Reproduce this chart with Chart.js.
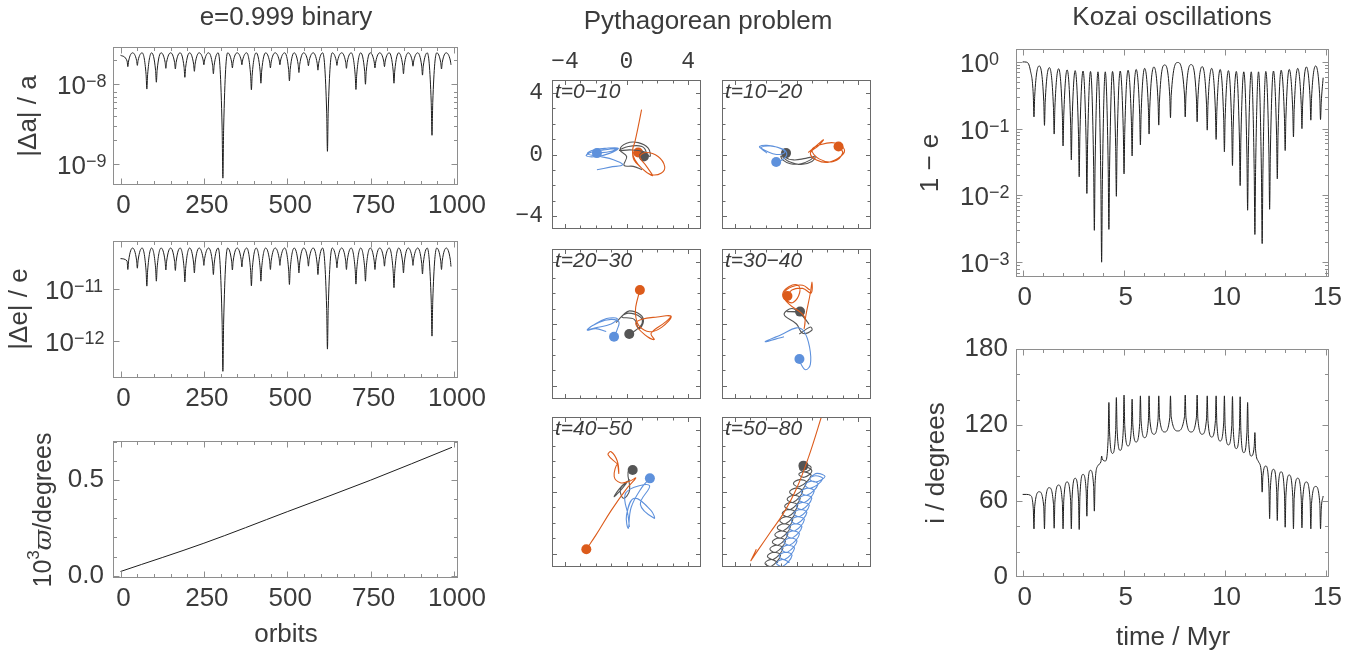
<!DOCTYPE html>
<html>
<head>
<meta charset="utf-8">
<title>Integrator tests</title>
<script src="https://cdn.jsdelivr.net/npm/chart.js@4.4.1/dist/chart.umd.min.js"></script>
<style>
  html, body { margin: 0; padding: 0; background: #ffffff; }
  #page { position: relative; width: 1357px; height: 657px; overflow: hidden; background: #ffffff; }
  #page canvas { position: absolute; left: 0; top: 0; }
</style>
</head>
<body>
<div id="page"></div>
<script>
// ---------- e = 0.999 binary: error growth over 1000 orbits ----------
// one row per error cycle: minimum, just after it, maximum, just before the next minimum
const orbitNumber = [0, 19.7,
  22, 24.3, 36.3, 48.2,
  50.5, 52.8, 64.8, 76.7,
  79, 81.3, 93.3, 105.2,
  107.5, 109.8, 121.8, 133.7,
  136, 138.3, 150.3, 162.2,
  164.5, 166.8, 178.8, 190.7,
  193, 195.3, 207.3, 219.2,
  221.5, 223.8, 235.8, 247.7,
  250, 252.3, 264.3, 276.2,
  278.5, 280.8, 292.8, 304.7,
  307, 309.3, 321.3, 333.2,
  335.5, 337.8, 349.8, 361.7,
  364, 366.3, 378.3, 390.2,
  392.5, 394.8, 406.8, 418.7,
  421, 423.3, 435.3, 447.2,
  449.5, 451.8, 463.8, 475.7,
  478, 480.3, 492.3, 504.2,
  506.5, 508.8, 520.8, 532.7,
  535, 537.3, 549.3, 561.2,
  563.5, 565.8, 577.8, 589.7,
  592, 594.3, 606.3, 618.2,
  620.5, 622.8, 634.8, 646.7,
  649, 651.3, 663.3, 675.2,
  677.5, 679.8, 691.8, 703.7,
  706, 708.3, 720.3, 732.2,
  734.5, 736.8, 748.8, 760.7,
  763, 765.3, 777.3, 789.2,
  791.5, 793.8, 805.8, 817.7,
  820, 822.3, 834.3, 846.2,
  848.5, 850.8, 862.8, 874.7,
  877, 879.3, 891.3, 903.2,
  905.5, 907.8, 919.8, 931.7,
  934, 936.3, 948.3, 960.2,
  962.5, 964.8, 976.8, 988.7,
  991];
const relErrA = [2.3e-8, 1.95e-8,
  1.66e-8, 1.95e-8, 2.47e-8, 1.99e-8,
  1.72e-8, 1.99e-8, 2.47e-8, 1.32e-8,
  8.7e-9, 1.32e-8, 2.47e-8, 1.49e-8,
  1.06e-8, 1.49e-8, 2.47e-8, 1.89e-8,
  1.58e-8, 1.89e-8, 2.47e-8, 1.87e-8,
  1.55e-8, 1.87e-8, 2.47e-8, 1.62e-8,
  1.22e-8, 1.62e-8, 2.47e-8, 1.79e-8,
  1.45e-8, 1.79e-8, 2.47e-8, 2.01e-8,
  1.75e-8, 2.01e-8, 2.47e-8, 1.72e-8,
  1.35e-8, 1.72e-8, 2.47e-8, 2.84e-9,
  6.7e-10, 2.84e-9, 2.47e-8, 1.90e-8,
  1.6e-8, 1.90e-8, 2.47e-8, 2.01e-8,
  1.75e-8, 2.01e-8, 2.47e-8, 1.30e-8,
  8.5e-9, 1.30e-8, 2.47e-8, 1.46e-8,
  1.03e-8, 1.46e-8, 2.47e-8, 1.90e-8,
  1.6e-8, 1.90e-8, 2.47e-8, 2.01e-8,
  1.75e-8, 2.01e-8, 2.47e-8, 1.52e-8,
  1.1e-8, 1.52e-8, 2.47e-8, 1.76e-8,
  1.4e-8, 1.76e-8, 2.47e-8, 1.97e-8,
  1.7e-8, 1.97e-8, 2.47e-8, 1.83e-8,
  1.5e-8, 1.83e-8, 2.47e-8, 4.51e-9,
  1.45e-9, 4.51e-9, 2.47e-8, 1.99e-8,
  1.72e-8, 1.99e-8, 2.47e-8, 1.89e-8,
  1.58e-8, 1.89e-8, 2.47e-8, 1.31e-8,
  8.6e-9, 1.31e-8, 2.47e-8, 1.44e-8,
  1.0e-8, 1.44e-8, 2.47e-8, 1.90e-8,
  1.6e-8, 1.90e-8, 2.47e-8, 1.95e-8,
  1.66e-8, 1.95e-8, 2.47e-8, 1.46e-8,
  1.03e-8, 1.46e-8, 2.47e-8, 1.72e-8,
  1.35e-8, 1.72e-8, 2.47e-8, 1.96e-8,
  1.68e-8, 1.96e-8, 2.47e-8, 1.68e-8,
  1.3e-8, 1.68e-8, 2.47e-8, 5.94e-9,
  2.3e-9, 5.94e-9, 2.47e-8, 1.87e-8,
  1.55e-8, 1.87e-8, 2.47e-8, 2.01e-8,
  1.75e-8];
const relErrE = [4.0e-11, 3.61e-11,
  2.45e-11, 3.61e-11, 6.45e-11, 3.74e-11,
  2.6e-11, 3.74e-11, 6.45e-11, 2.30e-11,
  1.16e-11, 2.30e-11, 6.45e-11, 2.64e-11,
  1.45e-11, 2.64e-11, 6.45e-11, 3.56e-11,
  2.4e-11, 3.56e-11, 6.45e-11, 3.52e-11,
  2.35e-11, 3.52e-11, 6.45e-11, 2.58e-11,
  1.4e-11, 2.58e-11, 6.45e-11, 3.29e-11,
  2.1e-11, 3.29e-11, 6.45e-11, 4.04e-11,
  2.95e-11, 4.04e-11, 6.45e-11, 3.15e-11,
  1.95e-11, 3.15e-11, 6.45e-11, 2.30e-12,
  2.5e-13, 2.30e-12, 6.45e-11, 3.56e-11,
  2.4e-11, 3.56e-11, 6.45e-11, 3.87e-11,
  2.75e-11, 3.87e-11, 6.45e-11, 2.32e-11,
  1.17e-11, 2.32e-11, 6.45e-11, 2.64e-11,
  1.45e-11, 2.64e-11, 6.45e-11, 3.61e-11,
  2.45e-11, 3.61e-11, 6.45e-11, 4.04e-11,
  2.95e-11, 4.04e-11, 6.45e-11, 2.41e-11,
  1.25e-11, 2.41e-11, 6.45e-11, 3.29e-11,
  2.1e-11, 3.29e-11, 6.45e-11, 3.95e-11,
  2.85e-11, 3.95e-11, 6.45e-11, 3.15e-11,
  1.95e-11, 3.15e-11, 6.45e-11, 4.20e-12,
  6.8e-13, 4.20e-12, 6.45e-11, 3.78e-11,
  2.65e-11, 3.78e-11, 6.45e-11, 3.61e-11,
  2.45e-11, 3.61e-11, 6.45e-11, 2.43e-11,
  1.27e-11, 2.43e-11, 6.45e-11, 2.64e-11,
  1.45e-11, 2.64e-11, 6.45e-11, 3.61e-11,
  2.45e-11, 3.61e-11, 6.45e-11, 3.95e-11,
  2.85e-11, 3.95e-11, 6.45e-11, 2.21e-11,
  1.08e-11, 2.21e-11, 6.45e-11, 3.29e-11,
  2.1e-11, 3.29e-11, 6.45e-11, 4.04e-11,
  2.95e-11, 4.04e-11, 6.45e-11, 3.19e-11,
  2.0e-11, 3.19e-11, 6.45e-11, 5.96e-12,
  1.22e-12, 5.96e-12, 6.45e-11, 3.61e-11,
  2.45e-11, 3.61e-11, 6.45e-11, 3.91e-11,
  2.8e-11];
const varpiOrbit = [0, 250, 500, 750, 994];
const varpiShift = [0.022, 0.17, 0.335, 0.5, 0.672];
const orbitTicks = [0, 250, 500, 750, 1000];
const relErrATicks = [1e-9, 1e-8];
const relErrETicks = [1e-12, 1e-11];
const varpiTicks = [0, 0.5];

// ---------- Pythagorean three-body problem, trails in six time windows ----------
const epochLabels = ['t=0\u221210', 't=10\u221220', 't=20\u221230', 't=30\u221240', 't=40\u221250', 't=50\u221280'];
const planeTicks = [-4, 0, 4];

const blue0_10 = [[-1.92,-0.99],[-1.06,-0.82],[-0.25,-0.67],[-0.85,-0.34],[-1.71,-0.13],[-2.53,0.04],[-2.25,0.26],[-1.28,0.41],[-0.53,0.41],[-1.06,0.09],[-1.92,-0.13],[-2.61,-0.09],[-2.35,0.13],[-1.49,0.30],[-0.63,0.37],[-1.06,0.19],[-1.92,0.09]];
const orange0_10 = [[0.98,2.92],[0.76,1.81],[0.55,0.84],[0.40,0.30],[0.48,-0.34],[0.98,-0.88],[1.69,-1.38],[1.30,-0.77],[0.87,-0.13],[1.30,0.13],[2.05,-0.13],[2.48,-0.77],[2.27,-1.20],[1.62,-1.31],[0.98,-0.88],[0.55,-0.34],[0.44,0.09],[0.76,0.13]];
const gray0_10 = [[1.0,-0.99],[0.44,-0.77],[-0.16,-0.71],[0.01,-0.13],[-0.42,0.30],[0.01,0.73],[0.76,0.77],[1.41,0.41],[1.52,-0.13],[1.09,0.19],[0.23,0.30],[-0.46,0.26],[0.12,0.52],[1.0,0.52],[1.30,0.09],[1.13,-0.13]];
const final0_10 = [[-1.92,0.09],[0.76,0.13],[1.13,-0.13]];

const blue10_20 = [[-1.92,0.09],[-2.25,0.35],[-2.40,0.52],[-1.92,0.60],[-1.2,0.45],[-0.75,0.15],[-1.3,0.0],[-2.0,0.25],[-2.3,0.45],[-1.7,0.55],[-0.9,0.35],[-0.63,0.04],[-0.85,-0.30],[-1.32,-0.49]];
const orange10_20 = [[0.76,0.13],[1.2,0.5],[1.75,0.95],[1.4,0.55],[0.9,0.1],[1.3,-0.35],[2.1,-0.5],[2.9,-0.1],[3.1,0.35],[2.5,0.75],[1.6,0.65],[1.0,0.3],[1.5,-0.3],[2.4,-0.45],[3.0,0.1],[2.73,0.52]];
const gray10_20 = [[1.13,-0.13],[0.9,-0.35],[0.3,-0.6],[-0.4,-0.6],[-0.9,-0.35],[-1.0,-0.1],[-0.5,-0.45],[0.3,-0.65],[1.0,-0.45],[1.2,-0.15],[0.6,-0.25],[-0.2,-0.35],[-0.75,-0.15],[-0.68,0.09]];
const final10_20 = [[-1.32,-0.49],[2.73,0.52],[-0.68,0.09]];

const blue20_30 = [[-1.32,-0.49],[-2.0,-0.3],[-2.55,-0.4],[-2.2,-0.1],[-1.3,0.35],[-0.6,0.35],[-1.0,0.0],[-2.0,-0.25],[-2.5,-0.35],[-1.8,0.1],[-1.0,0.3],[-0.5,0.15],[-0.6,-0.35],[-0.81,-0.82]];
const orange20_30 = [[2.73,0.52],[2.9,0.5],[2.5,0.1],[1.6,-0.6],[1.8,-1.0],[1.2,-0.7],[0.6,0.0],[1.0,0.3],[2.0,0.45],[2.9,0.5],[2.3,-0.2],[1.5,-0.5],[0.8,-0.1],[0.6,0.5],[0.6,1.1],[0.87,2.19]];
const gray20_30 = [[-0.68,0.09],[-0.2,0.6],[0.2,0.85],[0.9,0.6],[1.1,0.15],[0.8,-0.3],[0.5,0.3],[-0.3,0.45],[0.1,0.7],[0.9,0.45],[1.0,0.0],[0.6,-0.4],[0.18,-0.65]];
const final20_30 = [[-0.81,-0.82],[0.87,2.19],[0.18,-0.65]];

const blue30_40 = [[-0.81,-0.82],[-2.03,-1.14],[-1.0,-0.7],[0.0,-0.25],[0.5,-0.5],[0.85,-1.5],[0.9,-2.6],[0.6,-2.95],[0.3,-2.6],[0.19,-2.26]];
const orange30_40 = [[0.87,2.19],[0.4,2.5],[-0.3,2.4],[-0.8,2.0],[-0.6,1.5],[-0.2,1.4],[0.2,2.0],[0.1,2.5],[-0.5,2.4],[-0.9,1.9],[-0.5,1.3],[0.5,0.5],[0.5,-0.3],[0.6,0.5],[0.9,2.0],[1.0,2.7],[0.95,2.0],[0.4,2.3],[-0.3,2.2],[-0.59,1.81]];
const gray30_40 = [[0.18,-0.65],[0.9,-0.2],[1.0,-0.4],[0.4,-0.6],[0.0,0.0],[-0.8,0.6],[-0.3,1.0],[0.3,0.6],[0.8,0.0],[0.2,0.7],[-0.6,0.8],[0.23,0.80]];
const final30_40 = [[0.19,-2.26],[-0.59,1.81],[0.23,0.80]];

const blue40_50 = [[0.19,-2.26],[0.1,-1.5],[-0.1,-0.2],[0.5,0.3],[1.5,0.4],[0.9,-0.8],[1.8,-1.7],[1.6,-1.2],[0.5,-0.4],[0.0,-1.5],[0.12,-2.34],[0.3,-1.0],[1.0,0.3],[1.52,0.88]];
const orange40_50 = [[-0.59,1.81],[-1.2,2.4],[-1.0,2.6],[-0.6,2.0],[-0.5,1.2],[-0.6,1.8],[-0.8,1.0],[-0.4,0.6],[0.2,0.7],[0.6,0.9],[0.0,0.2],[-1.0,-1.2],[-2.0,-2.8],[-2.61,-3.70]];
const gray40_50 = [[0.23,0.80],[-0.3,0.4],[-0.8,-0.3],[-0.3,0.2],[0.0,0.6],[-0.4,0.2],[-0.2,-0.4],[0.2,0.1],[0.1,1.3],[0.40,1.42]];
const final40_50 = [[1.52,0.88],[-2.61,-3.70],[0.40,1.42]];

const blue50_80 = [[-0.45,-4.55],[-0.90,-4.35],[-1.30,-4.60],[-0.90,-4.80],[-0.29,-4.09],[-0.74,-3.89],[-1.14,-4.14],[-0.74,-4.34],
  [-0.13,-3.63],[-0.58,-3.43],[-0.98,-3.68],[-0.58,-3.88],[0.03,-3.17],[-0.42,-2.97],[-0.82,-3.22],[-0.42,-3.42],
  [0.19,-2.71],[-0.26,-2.51],[-0.66,-2.76],[-0.26,-2.96],[0.35,-2.25],[-0.10,-2.05],[-0.50,-2.30],[-0.10,-2.50],
  [0.51,-1.79],[0.06,-1.59],[-0.34,-1.84],[0.06,-2.04],[0.67,-1.33],[0.22,-1.13],[-0.18,-1.38],[0.22,-1.58],
  [0.83,-0.87],[0.38,-0.67],[-0.02,-0.92],[0.38,-1.12],[0.99,-0.41],[0.54,-0.21],[0.14,-0.46],[0.54,-0.66],
  [1.15,0.05],[0.70,0.25],[0.30,0.00],[0.70,-0.20],[1.40,0.50],[0.95,0.70],[0.55,0.45],[0.95,0.25],
  [1.70,0.85],[1.25,1.05],[0.85,0.85],[1.25,0.65],[1.85,1.0],[1.35,1.2],[1.0,1.05]];
const gray50_80 = [[-1.20,-4.55],[-1.65,-4.35],[-2.05,-4.60],[-1.65,-4.80],[-1.04,-4.09],[-1.49,-3.89],[-1.89,-4.14],[-1.49,-4.34],
  [-0.88,-3.63],[-1.33,-3.43],[-1.73,-3.68],[-1.33,-3.88],[-0.72,-3.17],[-1.17,-2.97],[-1.57,-3.22],[-1.17,-3.42],
  [-0.56,-2.71],[-1.01,-2.51],[-1.41,-2.76],[-1.01,-2.96],[-0.40,-2.25],[-0.85,-2.05],[-1.25,-2.30],[-0.85,-2.50],
  [-0.24,-1.79],[-0.69,-1.59],[-1.09,-1.84],[-0.69,-2.04],[-0.08,-1.33],[-0.53,-1.13],[-0.93,-1.38],[-0.53,-1.58],
  [0.08,-0.87],[-0.37,-0.67],[-0.77,-0.92],[-0.37,-1.12],[0.24,-0.41],[-0.21,-0.21],[-0.61,-0.46],[-0.21,-0.66],
  [0.40,0.05],[-0.05,0.25],[-0.45,0.00],[-0.05,-0.20],[0.65,0.60],[0.20,0.80],[-0.20,0.55],[0.20,0.35],
  [0.95,1.05],[0.50,1.30],[0.15,1.15],[0.50,0.95],[1.00,1.35],[0.55,1.65],[0.20,1.50],[0.55,1.30],[0.95,1.55],[0.60,1.80],[0.45,1.70]];
const orange50_80 = [[-2.61,-3.70],[-2.80,-4.10],[-2.96,-4.43],[-2.5,-3.75],[-1.7,-2.6],[-0.85,-1.38],[0.01,0.24],[0.8,2.3],[1.62,4.86],[1.9,5.8]];
const final50_80 = [[0.45,1.70]];

// ---------- Kozai oscillations of an inner binary ----------
// one row per Kozai cycle: eccentricity maximum, just after it, mid-cycle, just before the next maximum
const kozaiTime = [0, 0.2, 0.38, 0.525,
  0.56, 0.595, 0.82, 1.045,
  1.08, 1.115, 1.32, 1.525,
  1.56, 1.595, 1.78, 1.965,
  2.00, 2.035, 2.20, 2.375,
  2.41, 2.445, 2.60, 2.765,
  2.80, 2.835, 2.99, 3.145,
  3.18, 3.215, 3.36, 3.515,
  3.55, 3.585, 3.73, 3.875,
  3.91, 3.945, 4.09, 4.235,
  4.27, 4.305, 4.45, 4.605,
  4.64, 4.675, 4.83, 4.985,
  5.02, 5.055, 5.22, 5.385,
  5.42, 5.455, 5.62, 5.795,
  5.83, 5.865, 6.04, 6.225,
  6.26, 6.295, 6.50, 6.705,
  6.74, 6.775, 7.03, 7.285,
  7.32, 7.355, 7.68, 8.015,
  8.05, 8.085, 8.34, 8.605,
  8.64, 8.675, 8.89, 9.105,
  9.14, 9.175, 9.36, 9.545,
  9.58, 9.615, 9.78, 9.955,
  9.99, 10.025, 10.19, 10.355,
  10.39, 10.425, 10.58, 10.735,
  10.77, 10.805, 10.95, 11.105,
  11.14, 11.175, 11.32, 11.465,
  11.50, 11.535, 11.68, 11.825,
  11.86, 11.895, 12.04, 12.195,
  12.23, 12.265, 12.42, 12.575,
  12.61, 12.645, 12.80, 12.965,
  13.00, 13.035, 13.20, 13.375,
  13.41, 13.445, 13.62, 13.795,
  13.83, 13.865, 14.05, 14.235,
  14.27, 14.305, 14.51, 14.715,
  14.75, 14.785, 14.88];
const oneMinusE = [1.0, 0.99, 0.75, 0.32,
  0.15, 0.303, 0.87, 0.254,
  0.112, 0.248, 0.82, 0.207,
  0.083, 0.204, 0.79, 0.160,
  0.055, 0.157, 0.76, 0.118,
  0.034, 0.117, 0.74, 0.082,
  0.019, 0.082, 0.73, 0.058,
  0.0107, 0.0577, 0.72, 0.0269,
  0.0030, 0.0267, 0.71, 0.0138,
  0.0010, 0.0138, 0.71, 0.0273,
  0.0031, 0.0274, 0.72, 0.0544,
  0.0097, 0.0546, 0.73, 0.0869,
  0.021, 0.0878, 0.75, 0.1274,
  0.039, 0.1286, 0.77, 0.1614,
  0.057, 0.164, 0.80, 0.2055,
  0.083, 0.2095, 0.84, 0.252,
  0.113, 0.259, 0.90, 0.302,
  0.146, 0.313, 0.98, 0.318,
  0.15, 0.308, 0.91, 0.279,
  0.127, 0.272, 0.85, 0.228,
  0.095, 0.223, 0.80, 0.184,
  0.069, 0.181, 0.77, 0.140,
  0.045, 0.138, 0.74, 0.104,
  0.028, 0.1027, 0.72, 0.0677,
  0.014, 0.0673, 0.71, 0.0405,
  0.006, 0.0405, 0.71, 0.0245,
  0.0026, 0.0245, 0.71, 0.0203,
  0.0019, 0.0204, 0.72, 0.0415,
  0.0062, 0.0418, 0.73, 0.0783,
  0.0177, 0.0792, 0.75, 0.1424,
  0.047, 0.1438, 0.77, 0.190,
  0.075, 0.1932, 0.80, 0.2298,
  0.10, 0.2343, 0.84, 0.279,
  0.134, 0.283, 0.87, 0.287,
  0.137, 0.244, 0.58];
const inclination = [65.2, 65.2, 64.5, 54.2,
  38, 55.6, 67.3, 55.6,
  38, 57.5, 70.5, 57.7,
  38.5, 59.0, 72.6, 58.8,
  38, 60.2, 75, 60.2,
  38, 61.9, 77.9, 61.7,
  37.5, 63.6, 81, 67.8,
  48, 69.7, 84.2, 71.3,
  52, 73.6, 88, 91.0,
  95.5, 93.2, 91.6, 110.1,
  137.8, 113.7, 97.6, 115.5,
  141.7, 116.7, 100, 117.4,
  143.6, 119.5, 103.5, 118.3,
  140.4, 120.1, 106.6, 121.2,
  143, 123.2, 110, 123.2,
  143, 124.8, 112.7, 124.8,
  143, 125.9, 114.5, 125.9,
  143, 126.4, 115.3, 126.6,
  143.6, 126.1, 114.5, 126.1,
  143.6, 125.1, 112.7, 124.8,
  143, 123.5, 110.5, 123.5,
  143, 121.6, 107.4, 121.6,
  143, 119.8, 104.3, 119.6,
  142.5, 117.8, 101.4, 117.8,
  142.3, 115.8, 98.2, 114.2,
  137.8, 112.4, 95.5, 102.9,
  114, 100.2, 91, 81.4,
  67, 79.4, 87.6, 71.0,
  46, 69.4, 85, 68.8,
  44.6, 67.6, 83, 65.5,
  39.3, 64.0, 80.5, 63.5,
  38, 62.0, 78, 62.3,
  38.8, 60.5, 75, 60.2,
  38, 58.1, 71.5, 58.1,
  38, 53.5, 63.9];
const timeTicks = [0, 5, 10, 15];
const eccTicks = [1e-3, 1e-2, 1e-1, 1];
const inclTicks = [0, 60, 120, 180];

// ---------- drawing ----------
const PW = 1357, PH = 657;
const AXIS_W = 70, AXIS_H = 40;   // room kept for tick labels beside / below each frame
const SANS = '"Liberation Sans", Arial, Helvetica, sans-serif';
const MONO = '"Liberation Mono", "Courier New", monospace';
const INK = '#3b3b3b';
const FRAME = '#8e8e8e';
const BLUE = '#5e91dc', ORANGE = '#dc5b1b', GRAY = '#555555';
const LINE = '#1e1e1e';

const page = document.getElementById('page');

const range = (a, b, s) => { const out = []; for (let v = a; v <= b + 1e-9; v += s) out.push(+v.toFixed(6)); return out; };
const logMinor = (e0, e1) => { const out = []; for (let e = e0; e <= e1; e++) for (let m = 2; m <= 9; m++) out.push(m * Math.pow(10, e)); return out; };
const tickSet = (major, minor, lenMaj = 6, lenMin = 3.5) =>
  major.map(v => [v, lenMaj]).concat(minor.filter(v => !major.some(m => Math.abs(m - v) < 1e-9)).map(v => [v, lenMin]));
const minusSign = v => (v < 0 ? '\u2212' + Math.abs(v) : String(v));

function drawText(ctx, t) {
  ctx.save();
  ctx.translate(t.x, t.y);
  if (t.rot) ctx.rotate(t.rot);
  ctx.fillStyle = t.color || INK;
  ctx.textBaseline = t.base || 'alphabetic';
  ctx.textAlign = 'left';
  const parts = t.parts || [{ s: t.s, f: t.f }];
  let total = 0;
  for (const p of parts) { ctx.font = p.f; p.w = ctx.measureText(p.s).width; total += p.w + (p.gap || 0); }
  let x = t.align === 'left' ? 0 : t.align === 'right' ? -total : -total / 2;
  for (const p of parts) { ctx.font = p.f; ctx.fillText(p.s, x, p.dy || 0); x += p.w + (p.gap || 0); }
  ctx.restore();
}

// frame with inward ticks on all four sides, power-of-ten labels and free text
const decor = {
  id: 'decor',
  afterDraw(chart, _args, o) {
    if (!o || !o.on) return;
    const { ctx, chartArea: a } = chart;
    const xs = chart.scales.x, ys = chart.scales.y;
    ctx.save();
    const L = Math.round(a.left) + 0.5, R = Math.round(a.right) - 0.5;
    const T = Math.round(a.top) + 0.5, B = Math.round(a.bottom) - 0.5;
    ctx.strokeStyle = o.frame || FRAME;
    ctx.lineWidth = 1;
    ctx.beginPath();
    for (const [v, len] of o.xt || []) {
      const p = Math.round(xs.getPixelForValue(v)) + 0.5;
      if (p < L || p > R) continue;
      ctx.moveTo(p, B); ctx.lineTo(p, B - len);
      ctx.moveTo(p, T); ctx.lineTo(p, T + len);
    }
    for (const [v, len] of o.yt || []) {
      const p = Math.round(ys.getPixelForValue(v)) + 0.5;
      if (p < T || p > B) continue;
      ctx.moveTo(L, p); ctx.lineTo(L + len, p);
      ctx.moveTo(R, p); ctx.lineTo(R - len, p);
    }
    ctx.stroke();
    ctx.strokeRect(L, T, R - L, B - T);
    if (o.pow) {
      for (const v of o.pow.values) {
        const yc = ys.getPixelForValue(v);
        const e = Math.round(Math.log10(v));
        drawText(ctx, { x: o.pow.x0, y: yc + 10, align: 'left', parts: [
          { s: '10', f: '26px ' + SANS },
          { s: e === 0 ? '0' : '\u2212' + Math.abs(e), f: '18px ' + SANS, dy: -7 }
        ] });
      }
    }
    for (const t of o.texts || []) drawText(ctx, t);
    ctx.restore();
  }
};

function axis(type, min, max, labels, o = {}) {
  return {
    type, min, max,
    position: o.pos,
    grid: { display: false, drawTicks: false },
    border: { display: false },
    afterFit(s) { if (s.isHorizontal()) s.height = AXIS_H; else s.width = AXIS_W; },
    afterBuildTicks(s) { s.ticks = labels.map(v => ({ value: v })); },
    ticks: {
      display: !!o.show, autoSkip: false, maxRotation: 0, minRotation: 0,
      padding: o.pad === undefined ? 6 : o.pad,
      labelOffset: o.shift || 0,
      font: { family: o.family || SANS, size: o.size || 26 },
      color: INK,
      callback: o.fmt || (v => String(v)),
    },
  };
}

function build(frame, scales, datasets, decorOpts) {
  const canvas = document.createElement('canvas');
  canvas.width = PW; canvas.height = PH;
  canvas.style.width = PW + 'px'; canvas.style.height = PH + 'px';
  page.appendChild(canvas);
  const xTop = scales.x.position === 'top';
  return new Chart(canvas.getContext('2d'), {
    type: 'scatter',
    data: { datasets },
    options: {
      responsive: false, animation: false, devicePixelRatio: 1, events: [],
      layout: { padding: {
        left: frame.l - AXIS_W,
        top: xTop ? frame.t - AXIS_H : frame.t,
        right: PW - frame.r,
        bottom: xTop ? PH - frame.b : PH - frame.b - AXIS_H,
      } },
      scales,
      plugins: { legend: { display: false }, tooltip: { enabled: false }, decor: Object.assign({ on: true }, decorOpts) },
    },
    plugins: [decor],
  });
}

const curve = (xs, ys) => ({
  data: xs.map((x, i) => ({ x, y: ys[i] })),
  showLine: true, borderColor: LINE, borderWidth: 1, pointRadius: 0,
  cubicInterpolationMode: 'monotone',
});

// left column
const orbitMinor = range(0, 1000, 50);
build({ l: 113, t: 47, r: 458, b: 185 }, {
  x: axis('linear', -22.5, 1012, orbitTicks, { show: true, pad: 5, shift: 3 }),
  y: axis('logarithmic', 5.5e-10, 2.92e-8, relErrATicks),
}, [curve(orbitNumber, relErrA)], {
  xt: tickSet(orbitTicks, orbitMinor), yt: tickSet(relErrATicks, logMinor(-10, -8)),
  pow: { values: relErrATicks, x0: 57 },
  texts: [
    { s: 'e=0.999 binary', f: '26px ' + SANS, x: 286, y: 25 },
    { s: '|\u0394a| / a', f: '26px ' + SANS, x: 29, y: 116, rot: -Math.PI / 2, base: 'middle' },
  ],
});
build({ l: 113, t: 241, r: 458, b: 378 }, {
  x: axis('linear', -22.5, 1012, orbitTicks, { show: true, pad: 5, shift: 3 }),
  y: axis('logarithmic', 1.85e-13, 8.85e-11, relErrETicks),
}, [curve(orbitNumber, relErrE)], {
  xt: tickSet(orbitTicks, orbitMinor), yt: tickSet(relErrETicks, logMinor(-13, -11)),
  pow: { values: relErrETicks, x0: 45 },
  texts: [{ s: '|\u0394e| / e', f: '26px ' + SANS, x: 20, y: 309, rot: -Math.PI / 2, base: 'middle' }],
});
build({ l: 113, t: 441, r: 458, b: 578 }, {
  x: axis('linear', -22.5, 1012, orbitTicks, { show: true, pad: 5, shift: 3 }),
  y: axis('linear', -0.012, 0.705, varpiTicks, { show: true, pad: 9, fmt: v => v.toFixed(1) }),
}, [curve(varpiOrbit, varpiShift)], {
  xt: tickSet(orbitTicks, orbitMinor), yt: tickSet(varpiTicks, range(0, 0.7, 0.1)),
  texts: [
    { x: 44, y: 510, rot: -Math.PI / 2, base: 'middle', parts: [
      { s: '10', f: '25px ' + SANS },
      { s: '3', f: '17px ' + SANS, dy: -10 },
      { s: '\u03d6', f: 'italic 25px "DejaVu Serif", "Liberation Serif", serif' },
      { s: '/degrees', f: '25px ' + SANS },
    ] },
    { s: 'orbits', f: '26px ' + SANS, x: 286, y: 642 },
  ],
});

// middle column: six trajectory windows
const planeMinor = range(-4, 4, 1);
const planeFrames = [
  { l: 552, t: 80, r: 701, b: 229 }, { l: 722, t: 80, r: 871, b: 229 },
  { l: 552, t: 249, r: 701, b: 399 }, { l: 722, t: 249, r: 871, b: 399 },
  { l: 552, t: 417, r: 701, b: 567 }, { l: 722, t: 417, r: 871, b: 567 },
];
const windows = [
  [blue0_10, orange0_10, gray0_10, final0_10, [BLUE, ORANGE, GRAY]],
  [blue10_20, orange10_20, gray10_20, final10_20, [BLUE, ORANGE, GRAY]],
  [blue20_30, orange20_30, gray20_30, final20_30, [BLUE, ORANGE, GRAY]],
  [blue30_40, orange30_40, gray30_40, final30_40, [BLUE, ORANGE, GRAY]],
  [blue40_50, orange40_50, gray40_50, final40_50, [BLUE, ORANGE, GRAY]],
  [blue50_80, orange50_80, gray50_80, final50_80, [GRAY]],
];
const trail = (pts, color) => ({
  data: pts.map(([x, y]) => ({ x, y })), showLine: true, borderColor: color,
  borderWidth: 1.1, pointRadius: 0, tension: 0.4,
});
windows.forEach(([b, o, g, fin, dotColors], i) => {
  const first = i === 0;
  const f = planeFrames[i];
  build(f, {
    x: axis('linear', -4.84, 4.84, planeTicks, { show: first, pos: 'top', pad: 4, family: MONO, size: 23, fmt: minusSign }),
    y: axis('linear', -4.84, 4.84, planeTicks, { show: first, pad: 9, family: MONO, size: 23, fmt: minusSign }),
  }, [
    trail(b, BLUE), trail(o, ORANGE), trail(g, GRAY),
    { data: fin.map(([x, y]) => ({ x, y })), showLine: false, pointRadius: 5, pointBorderWidth: 0,
      pointBackgroundColor: dotColors, pointBorderColor: dotColors },
  ], {
    frame: '#6a6a6a',
    xt: tickSet(planeTicks, planeMinor, 4.5, 3), yt: tickSet(planeTicks, planeMinor, 4.5, 3),
    texts: [{ s: epochLabels[i], f: 'italic 21px ' + SANS, x: f.l + 3, y: f.t + 18, align: 'left' }]
      .concat(first ? [{ s: 'Pythagorean problem', f: '26px ' + SANS, x: 708, y: 29 }] : []),
  });
});

// right column
const timeMinor = range(0, 15, 1);
build({ l: 1016, t: 49, r: 1329, b: 277 }, {
  x: axis('linear', -0.33, 15.17, timeTicks, { show: true, pad: 5, shift: 2 }),
  y: axis('logarithmic', 6.3e-4, 1.56, eccTicks),
}, [curve(kozaiTime, oneMinusE)], {
  xt: tickSet(timeTicks, timeMinor), yt: tickSet(eccTicks, logMinor(-4, 0)),
  pow: { values: eccTicks, x0: 960 },
  texts: [
    { s: 'Kozai oscillations', f: '26px ' + SANS, x: 1172, y: 25 },
    { s: '1 \u2212 e', f: '26px ' + SANS, x: 931, y: 163, rot: -Math.PI / 2, base: 'middle' },
  ],
});
build({ l: 1016, t: 349, r: 1329, b: 577 }, {
  x: axis('linear', -0.33, 15.17, timeTicks, { show: true, pad: 5, shift: 2 }),
  y: axis('linear', 0, 180, inclTicks, { show: true, pad: 8 }),
}, [curve(kozaiTime, inclination)], {
  xt: tickSet(timeTicks, timeMinor), yt: tickSet(inclTicks, range(0, 180, 20)),
  texts: [
    { s: 'i / degrees', f: '26px ' + SANS, x: 937, y: 463, rot: -Math.PI / 2, base: 'middle' },
    { s: 'time / Myr', f: '26px ' + SANS, x: 1173, y: 645 },
  ],
});
</script>
</body>
</html>
